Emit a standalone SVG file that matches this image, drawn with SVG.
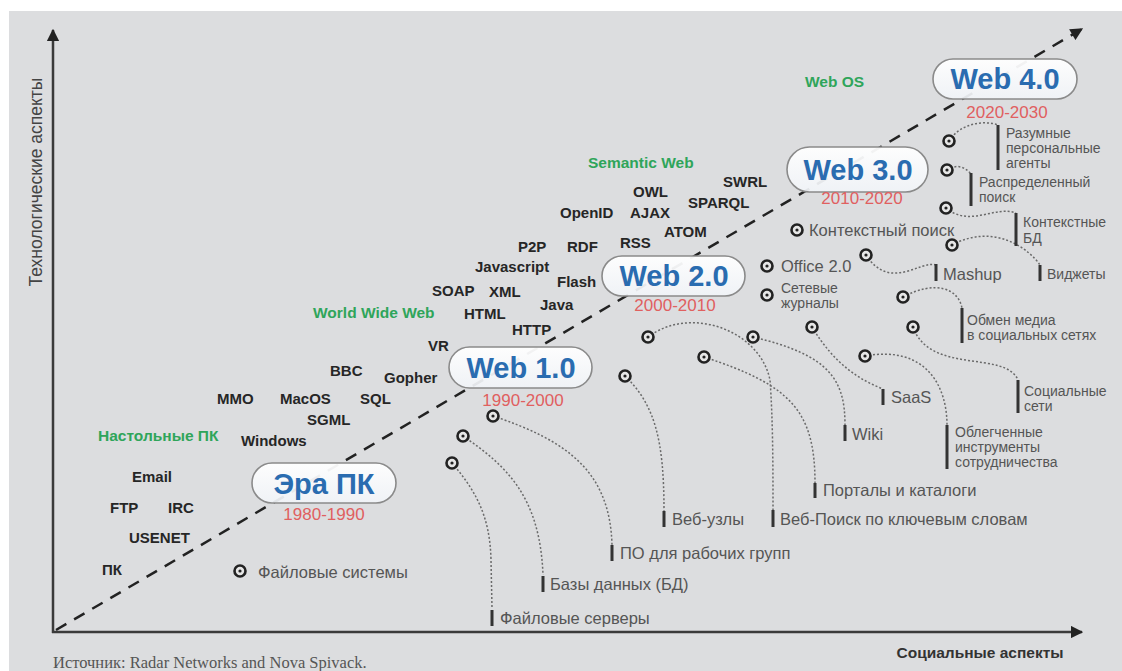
<svg xmlns="http://www.w3.org/2000/svg" xmlns:xlink="http://www.w3.org/1999/xlink" width="1122" height="671" viewBox="0 0 1122 671">
<style>
.tech{font-family:"Liberation Sans",Arial,sans-serif;font-weight:bold;font-size:15px;fill:#262626}
.green{font-family:"Liberation Sans",Arial,sans-serif;font-weight:bold;font-size:15.5px;fill:#2fa55a}
.era{font-family:"Liberation Sans",Arial,sans-serif;font-weight:bold;font-size:29px;fill:#2a6cb0;text-anchor:middle}
.year{font-family:"Liberation Sans",Arial,sans-serif;font-size:17px;fill:#e0605f;text-anchor:middle}
.lbl{font-family:"Liberation Sans",Arial,sans-serif;font-size:16.5px;fill:#555}
.ml{font-family:"Liberation Sans",Arial,sans-serif;font-size:14px;fill:#555}
.pill{fill:url(#pg);stroke:#8a8a8a;stroke-width:1.6}
.bar{stroke:#333;stroke-width:3}
.con{fill:none;stroke:#6a6a6a;stroke-width:1.5;stroke-dasharray:2 2}
.axis{stroke:#3a3a3a;stroke-width:2.5;fill:none}
</style>
<defs>
<linearGradient id="pg" x1="0" y1="0" x2="0" y2="1">
<stop offset="0" stop-color="#ffffff" stop-opacity="0.95"/>
<stop offset="1" stop-color="#f1f4f8" stop-opacity="0.92"/>
</linearGradient>
<marker id="ah" viewBox="0 0 10 10" refX="9" refY="5" markerWidth="5" markerHeight="5" orient="auto" markerUnits="strokeWidth">
<path d="M0,0 L10,5 L0,10 z" fill="#222"/>
</marker>
<marker id="ah2" viewBox="0 0 10 10" refX="9" refY="5" markerWidth="5.5" markerHeight="5" orient="auto" markerUnits="strokeWidth">
<path d="M0,0 L10,5 L0,10 z" fill="#222"/>
</marker>
<g id="dot"><circle r="5.5" fill="#e6e6e6" stroke="#222" stroke-width="2.6"/><circle r="1.6" fill="#222"/></g>
</defs>
<rect x="0" y="0" width="1122" height="671" fill="#ffffff"/>
<rect x="9" y="11" width="1113" height="660" fill="#dcdddf"/>

<g id="axes">
<line class="axis" x1="53" y1="633" x2="53" y2="30" marker-end="url(#ah)"/>
<line class="axis" x1="52" y1="632" x2="1082" y2="632" marker-end="url(#ah)"/>
<text x="0" y="0" transform="translate(42,182) rotate(-90)" text-anchor="middle" font-family="'Liberation Sans',Arial,sans-serif" font-size="17.5" fill="#444">Технологические аспекты</text>
<text x="980" y="658" text-anchor="middle" font-family="'Liberation Sans',Arial,sans-serif" font-size="15.5" font-weight="bold" fill="#333">Социальные аспекты</text>
<text x="53" y="668" font-family="'Liberation Serif','Times New Roman',serif" font-size="16.5" fill="#555">Источник: Radar Networks and Nova Spivack.</text>
</g>

<g id="trend">
<line x1="56" y1="630" x2="1082" y2="29" stroke="#222" stroke-width="2.5" stroke-dasharray="12 9" marker-end="url(#ah2)"/>
</g>

<g id="era-pc"><rect class="pill" x="252" y="463" width="144" height="40" rx="20"/><text class="era" x="324" y="494">Эра ПК</text><text class="year" x="324" y="520">1980-1990</text></g>
<g id="web1"><rect class="pill" x="449" y="347" width="143" height="41" rx="20.5"/><text class="era" x="521" y="378">Web 1.0</text><text class="year" x="523" y="406">1990-2000</text></g>
<g id="web2"><rect class="pill" x="602" y="256" width="143" height="40" rx="20"/><text class="era" x="674" y="286">Web 2.0</text><text class="year" x="675" y="311">2000-2010</text></g>
<g id="web3"><rect class="pill" x="787" y="147" width="141" height="45" rx="22.5"/><text class="era" x="858" y="180">Web 3.0</text><text class="year" x="862" y="204">2010-2020</text></g>
<g id="web4"><rect class="pill" x="933" y="59" width="144" height="40" rx="20"/><text class="era" x="1005" y="89">Web 4.0</text><text class="year" x="1007" y="118">2020-2030</text></g>

<g id="tech-labels">
<text class="tech" x="102" y="575">ПК</text>
<text class="tech" x="129" y="543">USENET</text>
<text class="tech" x="110" y="513">FTP</text>
<text class="tech" x="168" y="513">IRC</text>
<text class="tech" x="132" y="482">Email</text>
<text class="green" x="98" y="441">Настольные ПК</text>
<text class="tech" x="241" y="446">Windows</text>
<text class="tech" x="307" y="425">SGML</text>
<text class="tech" x="217" y="404">MMO</text>
<text class="tech" x="280" y="404">MacOS</text>
<text class="tech" x="360" y="404">SQL</text>
<text class="tech" x="330" y="376">BBC</text>
<text class="tech" x="384" y="383">Gopher</text>
<text class="tech" x="428" y="351">VR</text>
<text class="green" x="313" y="318">World Wide Web</text>
<text class="tech" x="464" y="319">HTML</text>
<text class="tech" x="512" y="335">HTTP</text>
<text class="tech" x="432" y="296">SOAP</text>
<text class="tech" x="489" y="297">XML</text>
<text class="tech" x="540" y="310">Java</text>
<text class="tech" x="557" y="287">Flash</text>
<text class="tech" x="475" y="272">Javascript</text>
<text class="tech" x="518" y="252">P2P</text>
<text class="tech" x="567" y="252">RDF</text>
<text class="tech" x="620" y="248">RSS</text>
<text class="tech" x="664" y="237">ATOM</text>
<text class="tech" x="560" y="218">OpenID</text>
<text class="tech" x="630" y="218">AJAX</text>
<text class="tech" x="633" y="197">OWL</text>
<text class="tech" x="688" y="208">SPARQL</text>
<text class="tech" x="723" y="187">SWRL</text>
<text class="green" x="588" y="168">Semantic Web</text>
<text class="green" x="805" y="87">Web OS</text>
</g>

<g id="connectors">
<path class="con" d="M452,463 C475,490 490,515 491,560 L492,608"/>
<path class="con" d="M463,436 C505,465 540,495 543,575"/>
<path class="con" d="M493,416 C565,440 610,470 612,545"/>
<path class="con" d="M625,376 C655,405 664,440 664,511"/>
<path class="con" d="M648,337 C690,305 760,330 770,380 C773,420 773,470 773,510"/>
<path class="con" d="M704,357 C790,385 815,410 815,483"/>
<path class="con" d="M753,337 C830,355 845,380 845,425"/>
<path class="con" d="M812,327 C835,365 860,380 883,389"/>
<path class="con" d="M865,356 C925,345 947,385 947,425"/>
<path class="con" d="M913,327 C930,375 1005,350 1018,380"/>
<path class="con" d="M903,297 C935,280 958,288 962,308"/>
<path class="con" d="M866,255 C890,292 920,260 936,265"/>
<path class="con" d="M952,245 C995,222 1030,250 1040,265"/>
<path class="con" d="M946,208 C970,228 995,205 1016,213"/>
<path class="con" d="M947,170 C958,163 966,168 971,174"/>
<path class="con" d="M949,141 C960,123 985,120 998,125"/>
</g>

<g id="dots">
<use xlink:href="#dot" x="240" y="571"/>
<use xlink:href="#dot" x="452" y="463"/>
<use xlink:href="#dot" x="463" y="436"/>
<use xlink:href="#dot" x="493" y="416"/>
<use xlink:href="#dot" x="625" y="376"/>
<use xlink:href="#dot" x="648" y="337"/>
<use xlink:href="#dot" x="704" y="357"/>
<use xlink:href="#dot" x="753" y="337"/>
<use xlink:href="#dot" x="812" y="327"/>
<use xlink:href="#dot" x="865" y="356"/>
<use xlink:href="#dot" x="913" y="327"/>
<use xlink:href="#dot" x="903" y="297"/>
<use xlink:href="#dot" x="866" y="255"/>
<use xlink:href="#dot" x="952" y="245"/>
<use xlink:href="#dot" x="946" y="208"/>
<use xlink:href="#dot" x="947" y="170"/>
<use xlink:href="#dot" x="949" y="141"/>
<use xlink:href="#dot" x="797" y="230"/>
<use xlink:href="#dot" x="767" y="266"/>
<use xlink:href="#dot" x="767" y="295"/>
</g>

<g id="social-labels">
<text class="lbl" x="258" y="578">Файловые системы</text>
<line class="bar" x1="492" y1="610" x2="492" y2="626"/><text class="lbl" x="500" y="624">Файловые серверы</text>
<line class="bar" x1="543" y1="576" x2="543" y2="592"/><text class="lbl" x="550" y="590">Базы данных (БД)</text>
<line class="bar" x1="612" y1="545" x2="612" y2="561"/><text class="lbl" x="620" y="559">ПО для рабочих групп</text>
<line class="bar" x1="664" y1="511" x2="664" y2="527"/><text class="lbl" x="672" y="525">Веб-узлы</text>
<line class="bar" x1="773" y1="510" x2="773" y2="527"/><text class="lbl" x="780" y="525">Веб-Поиск по ключевым словам</text>
<line class="bar" x1="815" y1="483" x2="815" y2="498"/><text class="lbl" x="823" y="496">Порталы и каталоги</text>
<line class="bar" x1="845" y1="425" x2="845" y2="441"/><text class="lbl" x="852" y="440">Wiki</text>
<line class="bar" x1="883" y1="389" x2="883" y2="405"/><text class="lbl" x="891" y="403">SaaS</text>
<line class="bar" x1="947" y1="425" x2="947" y2="469"/><text class="ml" x="955" y="437">Облегченные</text><text class="ml" x="955" y="452">инструменты</text><text class="ml" x="955" y="467">сотрудничества</text>
<line class="bar" x1="1018" y1="380" x2="1018" y2="413"/><text class="ml" x="1024" y="396">Социальные</text><text class="ml" x="1024" y="411">сети</text>
<line class="bar" x1="962" y1="308" x2="962" y2="343"/><text class="ml" x="967" y="325">Обмен медиа</text><text class="ml" x="967" y="340">в социальных сетях</text>
<line class="bar" x1="936" y1="264" x2="936" y2="281"/><text class="lbl" x="943" y="280">Mashup</text>
<line class="bar" x1="1040" y1="265" x2="1040" y2="281"/><text class="ml" x="1047" y="279">Виджеты</text>
<line class="bar" x1="1016" y1="213" x2="1016" y2="246"/><text class="ml" x="1023" y="227">Контекстные</text><text class="ml" x="1023" y="243">БД</text>
<line class="bar" x1="971" y1="173" x2="971" y2="206"/><text class="ml" x="979" y="187">Распределенный</text><text class="ml" x="979" y="202">поиск</text>
<line class="bar" x1="998" y1="125" x2="998" y2="170"/><text class="ml" x="1006" y="138">Разумные</text><text class="ml" x="1006" y="153">персональные</text><text class="ml" x="1006" y="168">агенты</text>
<text class="lbl" x="809" y="236">Контекстный поиск</text>
<text class="lbl" x="781" y="272">Office 2.0</text>
<text class="ml" x="781" y="293">Сетевые</text><text class="ml" x="781" y="308">журналы</text>
</g>
</svg>
